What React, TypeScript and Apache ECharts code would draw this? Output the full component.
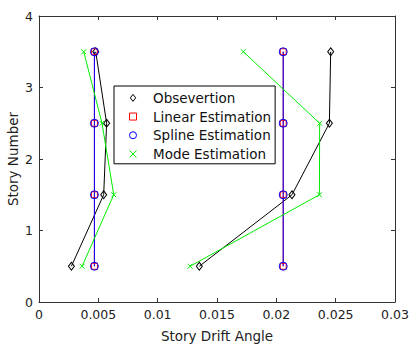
import React, { useEffect, useRef } from "react";
import * as echarts from "echarts";

const stories = [0.5, 1.5, 2.5, 3.5];
const obsLeft = [0.00273, 0.00545, 0.0057, 0.00478];
const obsRight = [0.01351, 0.02132, 0.02447, 0.02458];
const linearLeft = [0.00467, 0.00467, 0.00467, 0.00467];
const linearRight = [0.02058, 0.02058, 0.02058, 0.02058];
const splineLeft = [0.00467, 0.00467, 0.00467, 0.00467];
const splineRight = [0.02058, 0.02058, 0.02058, 0.02058];
const modeLeft = [0.00363, 0.0063, 0.00531, 0.00377];
const modeRight = [0.01273, 0.02363, 0.02365, 0.01722];
const seriesNames = ["Obsevertion", "Linear Estimation", "Spline Estimation", "Mode Estimation"];

const FONT = "DejaVu Sans";
const DIAMOND = "path://M5,0L10,6.5L5,13L0,6.5Z";
const SQUARE = "path://M0,0L10,0L10,10L0,10Z";
const CIRCLE = "path://M0,5A5,5,0,1,1,10,5A5,5,0,1,1,0,5Z";
const CROSS = "path://M0,0L10,10M10,0L0,10";

const pts = (xs: number[]) => xs.map((x, i) => [x, stories[i]]);

export default function App() {
  const ref = useRef<HTMLDivElement>(null);
  useEffect(() => {
    document.body.style.margin = "0";
    document.body.style.overflow = "hidden";
    if (!ref.current) return;
    const chart = echarts.init(ref.current, null, { renderer: "svg" });
    const mk = (
      name: string,
      xs: number[],
      color: string,
      symbol: string,
      size: number | number[],
      lineWidth: number
    ) => ({
      name,
      type: "line",
      data: pts(xs),
      symbol,
      symbolSize: size,
      showSymbol: true,
      lineStyle: { color, width: lineWidth },
      itemStyle: { color: "rgba(0,0,0,0)", borderColor: color, borderWidth: 1 },
      emphasis: { disabled: true },
      z: 2,
    });
    const axisCommon = {
      type: "value",
      nameMoveOverlap: false,
      axisLine: { show: true, onZero: false, lineStyle: { color: "#333", width: 1 } },
      axisTick: { show: true, inside: true, length: 4, lineStyle: { color: "#333" } },
      splitLine: { show: false },
    };
    const xRange = { min: 0, max: 0.03, interval: 0.005 };
    const yRange = { min: 0, max: 4, interval: 1 };
    chart.setOption({
      animation: false,
      backgroundColor: "#fff",
      grid: { left: 39, right: 14, top: 16, bottom: 45, containLabel: false, outerBoundsMode: "none" },
      xAxis: [
        {
          ...axisCommon,
          ...xRange,
          position: "bottom",
          name: "Story Drift Angle",
          nameLocation: "middle",
          nameGap: 27,
          nameTextStyle: { color: "#222", fontSize: 13.5, fontFamily: FONT },
          axisLabel: { color: "#222", fontSize: 12.5, fontFamily: FONT, margin: 6 },
        },
        { ...axisCommon, ...xRange, position: "top", axisLabel: { show: false } },
      ],
      yAxis: [
        {
          ...axisCommon,
          ...yRange,
          position: "left",
          name: "Story Number",
          nameLocation: "middle",
          nameGap: 19,
          nameTextStyle: { color: "#222", fontSize: 13.5, fontFamily: FONT },
          axisLabel: { color: "#222", fontSize: 12.5, fontFamily: FONT, margin: 6 },
        },
        { ...axisCommon, ...yRange, position: "right", axisLabel: { show: false } },
      ],
      legend: {
        orient: "vertical",
        left: 114,
        top: 86,
        padding: [4, 4, 2, 15],
        itemWidth: 30,
        itemHeight: 7,
        itemGap: 3,
        borderColor: "#000",
        borderWidth: 1,
        backgroundColor: "#fff",
        textStyle: { color: "#111", fontSize: 13.5, fontFamily: FONT, lineHeight: 15.7 },
        selectedMode: false,
        data: [
          { name: seriesNames[0], icon: DIAMOND, itemStyle: { color: "rgba(0,0,0,0)", borderColor: "#000", borderWidth: 1 } },
          { name: seriesNames[1], icon: SQUARE, itemStyle: { color: "rgba(0,0,0,0)", borderColor: "#ff0000", borderWidth: 1 } },
          { name: seriesNames[2], icon: CIRCLE, itemStyle: { color: "rgba(0,0,0,0)", borderColor: "#0000ff", borderWidth: 1 } },
          { name: seriesNames[3], icon: CROSS, itemStyle: { color: "rgba(0,0,0,0)", borderColor: "#00ee00", borderWidth: 1 } },
        ],
      },
      series: [
        mk(seriesNames[0], obsLeft, "#000", DIAMOND, [6, 8], 1),
        mk(seriesNames[0], obsRight, "#000", DIAMOND, [6, 8], 1),
        mk(seriesNames[1], linearLeft, "#ff0000", SQUARE, 6, 1),
        mk(seriesNames[1], linearRight, "#ff0000", SQUARE, 6, 1),
        mk(seriesNames[2], splineLeft, "#0000ff", CIRCLE, 8, 1),
        mk(seriesNames[2], splineRight, "#0000ff", CIRCLE, 8, 1),
        mk(seriesNames[3], modeLeft, "#00ee00", CROSS, 5, 1),
        mk(seriesNames[3], modeRight, "#00ee00", CROSS, 5, 1),
      ],
    });
    return () => chart.dispose();
  }, []);
  return <div ref={ref} style={{ width: 409, height: 347 }} />;
}
